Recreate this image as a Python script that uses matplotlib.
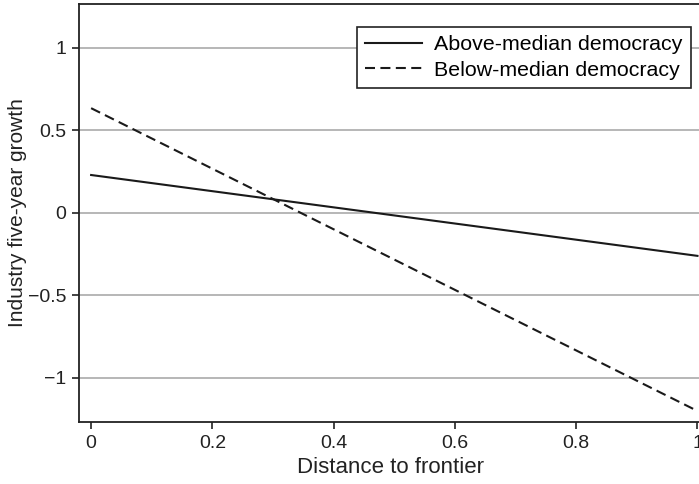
import matplotlib
matplotlib.use('Agg')
import matplotlib.pyplot as plt
import numpy as np

plt.rcParams['font.family'] = ['Liberation Sans', 'DejaVu Sans']

# fitted lines, endpoints
distance = [0.0, 1.0]
above_median = [0.23, -0.26]
below_median = [0.635, -1.2]
yticks = [-1, -0.5, 0, 0.5, 1]
ytick_labels = ['\u22121', '\u22120.5', '0', '0.5', '1']
xticks = [0, 0.2, 0.4, 0.6, 0.8, 1]
xtick_labels = ['0', '0.2', '0.4', '0.6', '0.8', '1']

fig = plt.figure(figsize=(6.99, 4.84), dpi=100)
ax = fig.add_axes([0.113, 0.128, 0.89, 0.864])

ax.plot(distance, above_median, color='#1a1a1a', lw=1.5, label='Above-median democracy')
ax.plot(distance, below_median, color='#1a1a1a', lw=1.5, ls=(0, (4.8, 2.6)),
        label='Below-median democracy')

ax.set_xlim(-0.02, 1.006)
ax.set_ylim(-1.267, 1.267)
ax.set_yticks(yticks)
ax.set_yticklabels(ytick_labels)
ax.set_xticks(xticks)
ax.set_xticklabels(xtick_labels)
ax.grid(True, axis='y', color='#aaaaaa', lw=1.2)
ax.set_axisbelow(True)
ax.spines['right'].set_visible(False)
for s in ['left', 'bottom', 'top']:
    ax.spines[s].set_linewidth(1.3)
    ax.spines[s].set_color('#222222')
ax.tick_params(labelsize=14, colors='#222222', length=5, width=1.2, pad=4)

ax.set_xlabel('Distance to frontier', fontsize=16, color='#222222', labelpad=4)
ax.set_ylabel('Industry five-year growth', fontsize=15, color='#222222', labelpad=1)

leg = ax.legend(loc='upper right', bbox_to_anchor=(0.984, 0.945), fontsize=15.4,
                frameon=True, fancybox=False, edgecolor='#222222', framealpha=1,
                handlelength=2.66, borderpad=0.4, labelspacing=0.3, handletextpad=0.56,
                borderaxespad=0.0)
leg.get_frame().set_linewidth(1.2)

fig.savefig('out.png', dpi=100)
